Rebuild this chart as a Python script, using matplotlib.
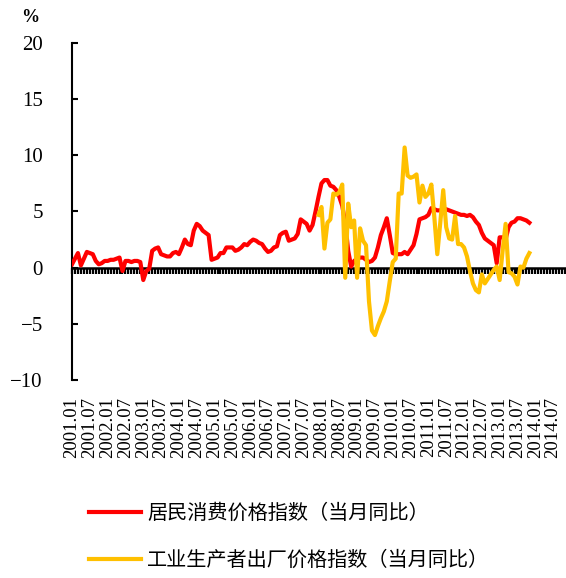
import matplotlib
matplotlib.use('Agg')
import matplotlib.pyplot as plt
import numpy as np

# ---------------- data (monthly, starting 2001.01) ----------------
cpi = [
    0.3, 0.8, 1.3, 0.2, 0.8, 1.4, 1.3, 1.2, 0.6, 0.3,
    0.4, 0.6, 0.6, 0.7, 0.7, 0.8, 0.9, -0.3, 0.6, 0.6,
    0.5, 0.6, 0.6, 0.5, -1.1, -0.3, -0.1, 1.5, 1.7, 1.8,
    1.2, 1.1, 1.0, 1.0, 1.3, 1.4, 1.2, 1.8, 2.5, 2.1,
    2.0, 3.3, 3.9, 3.7, 3.3, 3.1, 2.9, 0.7, 0.8, 0.9,
    1.3, 1.3, 1.8, 1.8, 1.8, 1.5, 1.6, 1.8, 2.1, 2.0,
    2.3, 2.5, 2.4, 2.2, 2.1, 1.7, 1.4, 1.5, 1.8, 1.9,
    2.9, 3.1, 3.2, 2.4, 2.5, 2.6, 3.0, 4.3, 4.1, 3.9,
    3.3, 3.8, 5.0, 6.3, 7.5, 7.8, 7.8, 7.3, 7.2, 6.9,
    6.3, 5.5, 4.0, 1.5, 0.1, 0.6, 0.8, 0.9, 0.9, 0.7,
    0.5, 0.6, 0.9, 1.8, 2.9, 3.6, 4.4, 2.9, 1.3, 1.2,
    1.2, 1.2, 1.4, 1.2, 1.6, 2.0, 3.0, 4.3, 4.4, 4.5,
    4.7, 5.3, 5.2, 5.1, 5.1, 5.1, 5.2, 5.1, 5.0, 4.9,
    4.8, 4.7, 4.7, 4.6, 4.7, 4.5, 4.1, 3.8, 3.1, 2.6,
    2.4, 2.2, 2.0, 0.4, 2.7, 2.7, 2.5, 3.6, 4.0, 4.1,
    4.4, 4.4, 4.3, 4.2, 4.0,
]

ppi_start = 83  # month index of first PPI value (2007.12)
ppi = [
    4.7, 5.4, 1.7, 4.0, 4.3, 6.6, 6.5, 6.7, 7.4, -0.9,
    5.7, 3.6, 4.2, -0.9, 3.5, 2.4, 2.0, -3.0, -5.6, -6.0,
    -5.2, -4.5, -3.9, -3.0, -1.2, 0.5, 0.8, 6.6, 6.6, 10.7,
    8.2, 8.0, 8.1, 8.3, 5.8, 7.3, 6.3, 6.6, 7.4, 4.5,
    1.2, 4.0, 6.9, 3.6, 2.6, 2.5, 4.6, 2.1, 2.1, 1.8,
    1.0, -0.3, -1.4, -2.0, -2.2, -0.6, -1.4, -1.0, -0.6, -0.2,
    0.1, -1.1, 1.5, 3.9, -0.4, -0.5, -0.8, -1.5, 0.1, 0.0,
    0.8, 1.3,
]

tick_labels = [
    "2001.01", "2001.07", "2002.01", "2002.07", "2003.01", "2003.07",
    "2004.01", "2004.07", "2005.01", "2005.07", "2006.01", "2006.07",
    "2007.01", "2007.07", "2008.01", "2008.07", "2009.01", "2009.07",
    "2010.01", "2010.07", "2011.01", "2011.07", "2012.01", "2012.07",
    "2013.01", "2013.07", "2014.01", "2014.07",
]
y_ticks = [-10, -5, 0, 5, 10, 15, 20]
series_names = ["居民消费价格指数（当月同比）", "工业生产者出厂价格指数（当月同比）"]

# ---------------- figure ----------------
W, H = 566, 578
fig = plt.figure(figsize=(W / 100, H / 100), dpi=100)
ax = fig.add_axes([72 / W, 1 - 380 / H, (565 - 72) / W, (380 - 43) / H])
ax.set_xlim(0, 166)
ax.set_ylim(-10, 20)

serif = 'Liberation Serif'
cjk = ['Noto Sans CJK SC', 'DejaVu Sans']

x_cpi = np.arange(len(cpi))
x_ppi = np.arange(ppi_start, ppi_start + len(ppi))
l1, = ax.plot(x_cpi, cpi, color='#FF0000', lw=3.0, zorder=3)
l2, = ax.plot(x_ppi, ppi, color='#FFC000', lw=3.0, zorder=4)

for s in ['top', 'right']:
    ax.spines[s].set_visible(False)
ax.spines['bottom'].set_position(('data', 0))
ax.spines['bottom'].set_linewidth(1.8)
ax.spines['left'].set_linewidth(1.5)

ax.set_xticks(np.arange(0, 167, 1))
ax.tick_params(axis='x', direction='out', length=4, width=1.6, labelbottom=False)

ax.set_yticks(y_ticks)
ax.set_yticklabels([str(v).replace('-', '\u2212') for v in y_ticks], fontfamily=serif)
ax.tick_params(axis='y', direction='in', length=4, width=1.5, labelsize=15, pad=21)

sec = ax.secondary_xaxis(0.0)
sec.set_xticks(np.arange(0, 6 * len(tick_labels), 6))
sec.set_xticklabels(tick_labels, rotation=90, fontfamily=serif, fontsize=13.5)
sec.tick_params(length=0, pad=12)
sec.spines['bottom'].set_visible(False)

fig.text(30 / W, 1 - 18 / H, '%', ha='center', va='center', fontsize=13,
         fontweight='bold', fontfamily=serif)

fig.legend(handles=[l1, l2], labels=series_names, loc='upper left',
           bbox_to_anchor=(89 / W, 1 - 503 / H), frameon=False,
           prop={'family': cjk, 'size': 14.5}, handlelength=2.6,
           handletextpad=0.3, labelspacing=1.3, borderpad=0, borderaxespad=0)

fig.savefig('out.png', dpi=100)
